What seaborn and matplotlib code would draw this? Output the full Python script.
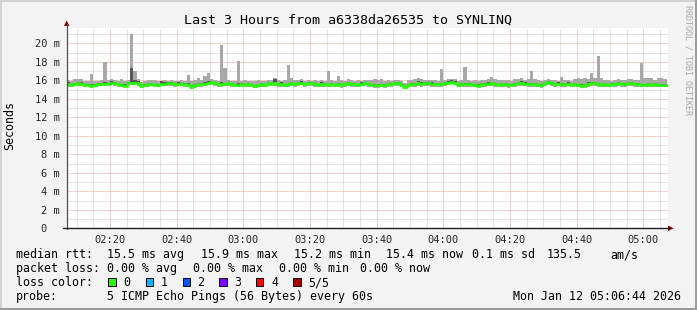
import numpy as np
import pandas as pd
import matplotlib
matplotlib.use("Agg")
import matplotlib.pyplot as plt
import seaborn as sns
from matplotlib.patches import Rectangle, Polygon
from matplotlib.lines import Line2D

# ---------------- data (1-minute samples, ms) ----------------
med = [15.60,15.46,15.60,15.68,15.60,15.49,15.49,15.39,15.49,15.57,
       15.60,15.64,15.60,15.75,15.68,15.57,15.49,15.42,15.68,15.75,
       15.75,15.75,15.39,15.46,15.57,15.57,15.46,15.46,15.64,15.60,
       15.68,15.68,15.57,15.60,15.60,15.57,15.53,15.31,15.49,15.57,
       15.57,15.64,15.75,15.78,15.68,15.57,15.57,15.60,15.68,15.57,
       15.49,15.49,15.57,15.49,15.57,15.49,15.39,15.49,15.57,15.49,
       15.68,15.60,15.68,15.57,15.60,15.49,15.57,15.68,15.57,15.68,
       15.75,15.57,15.68,15.68,15.57,15.49,15.60,15.57,15.49,15.57,
       15.49,15.57,15.49,15.57,15.68,15.57,15.57,15.49,15.60,15.68,
       15.57,15.49,15.49,15.49,15.49,15.46,15.57,15.57,15.68,15.68,
       15.49,15.24,15.49,15.57,15.57,15.68,15.60,15.68,15.68,15.60,
       15.57,15.57,15.57,15.68,15.75,15.85,15.75,15.49,15.57,15.57,
       15.57,15.57,15.49,15.42,15.57,15.57,15.60,15.68,15.57,15.49,
       15.57,15.57,15.49,15.49,15.57,15.68,15.68,15.60,15.57,15.57,
       15.57,15.49,15.49,15.68,15.78,15.68,15.57,15.60,15.57,15.57,
       15.60,15.49,15.57,15.49,15.42,15.49,15.60,15.68,15.68,15.57,
       15.49,15.57,15.49,15.57,15.57,15.68,15.57,15.57,15.68,15.68,
       15.57,15.57,15.49,15.49,15.57,15.49,15.57,15.49,15.49,15.49]

smoke_hi = [16.05,15.95,16.1,16.1,16.1,15.9,15.9,16.65,15.9,15.95,
            16.0,18.0,16.0,16.1,16.05,15.95,16.1,15.9,16.0,21.0,
            17.0,16.1,15.8,15.9,16.0,16.0,16.05,15.9,15.9,16.0,
            15.95,16.05,15.9,15.95,16.0,15.95,16.6,15.9,16.0,16.2,
            16.05,16.5,16.8,16.1,16.0,15.95,19.8,17.3,16.0,15.95,
            15.9,18.05,15.95,16.0,15.9,15.95,15.9,16.0,15.95,15.9,
            16.0,16.05,16.2,16.0,15.95,16.0,17.6,16.3,16.0,16.05,
            16.1,15.95,16.0,15.95,16.0,15.9,16.0,15.95,17.0,16.0,
            15.95,16.5,16.0,15.95,16.1,16.0,15.95,16.0,15.95,16.05,
            16.0,16.05,16.1,16.0,16.1,15.95,16.0,15.95,16.0,16.0,
            15.95,15.7,16.0,16.05,16.1,16.2,16.15,16.05,16.0,16.05,
            16.0,15.95,17.2,16.05,16.1,16.1,16.1,15.95,16.0,17.4,
            16.0,15.95,16.0,15.95,16.0,16.05,16.1,16.4,16.1,16.0,
            16.0,16.05,16.0,15.95,16.1,16.1,16.2,16.0,16.1,17.0,
            16.1,16.0,15.95,16.05,16.15,16.05,16.0,15.95,16.4,16.0,
            16.0,15.95,16.15,16.2,16.15,16.2,16.1,16.8,16.2,18.6,
            16.2,16.0,16.0,15.95,16.0,16.1,16.05,16.0,16.15,16.1,
            16.0,16.0,17.9,16.3,16.3,16.2,16.0,16.25,16.2,16.1]

smoke_lo = [15.3,15.25,15.35,15.4,15.35,15.3,15.25,15.2,15.25,15.35,
            15.35,15.4,15.35,15.45,15.4,15.3,15.25,15.25,15.4,15.45,
            15.45,15.4,15.2,15.25,15.3,15.35,15.25,15.25,15.35,15.35,
            15.4,15.4,15.3,15.35,15.35,15.3,15.25,15.1,15.15,15.3,
            15.25,15.35,15.45,15.45,15.4,15.3,15.3,15.35,15.35,15.25,
            15.25,15.25,15.3,15.25,15.3,15.25,15.15,15.25,15.3,15.25,
            15.4,15.35,15.4,15.3,15.3,15.25,15.3,15.4,15.3,15.35,
            15.45,15.3,15.4,15.4,15.3,15.25,15.3,15.3,15.25,15.3,
            15.25,15.3,15.2,15.25,15.35,15.3,15.3,15.25,15.35,15.4,
            15.3,15.25,15.15,15.15,15.25,15.2,15.3,15.3,15.4,15.4,
            15.25,15.1,15.25,15.3,15.25,15.35,15.3,15.4,15.35,15.3,
            15.3,15.25,15.25,15.4,15.45,15.55,15.45,15.25,15.3,15.3,
            15.3,15.3,15.25,15.15,15.3,15.3,15.35,15.4,15.3,15.25,
            15.3,15.25,15.2,15.25,15.3,15.35,15.4,15.35,15.3,15.3,
            15.3,15.25,15.2,15.4,15.45,15.4,15.3,15.35,15.3,15.3,
            15.35,15.25,15.3,15.25,15.15,15.2,15.3,15.4,15.35,15.3,
            15.25,15.3,15.25,15.3,15.3,15.4,15.3,15.3,15.35,15.4,
            15.3,15.3,15.25,15.25,15.3,15.25,15.3,15.25,15.25,15.25]

dark_hi = [15.85,15.6,15.75,15.85,15.8,15.6,15.6,15.55,15.6,15.75,
           15.7,15.85,15.7,15.95,15.85,15.7,15.6,15.55,15.85,17.3,
           16.0,15.95,15.5,15.6,15.75,15.7,15.6,15.6,15.9,15.8,
           15.85,15.85,15.7,15.8,15.75,15.7,15.75,15.5,15.6,15.75,
           15.7,15.85,15.95,15.95,15.85,15.7,15.8,15.75,15.85,15.7,
           15.6,15.7,15.75,15.6,15.75,15.6,15.5,15.6,15.75,15.6,
           15.85,15.75,16.1,15.75,15.8,15.6,15.75,15.85,15.7,15.85,
           15.95,15.7,15.85,15.85,15.7,15.6,15.8,15.7,15.6,15.75,
           15.6,15.75,15.65,15.7,15.85,15.7,15.75,15.6,15.8,15.85,
           15.7,15.6,15.6,15.65,15.6,15.55,15.75,15.7,15.85,15.8,
           15.6,15.35,15.65,15.75,15.7,15.9,15.8,15.85,15.8,15.8,
           15.7,15.75,15.7,15.85,15.95,16.0,15.95,15.6,15.75,15.7,
           15.75,15.7,15.6,15.55,15.75,15.7,15.8,15.85,15.7,15.6,
           15.75,15.7,15.6,15.65,15.75,15.85,15.9,15.8,15.7,15.75,
           15.7,15.6,15.65,15.85,15.95,15.85,15.7,15.8,15.7,15.75,
           15.8,15.6,15.75,15.6,15.55,15.6,15.8,15.85,15.85,15.7,
           15.65,15.75,15.6,15.75,15.7,15.85,15.7,15.75,15.85,15.8,
           15.75,15.7,15.6,15.65,15.75,15.6,15.75,15.6,15.65,15.6]

dark_lo = [15.45,15.35,15.5,15.55,15.5,15.4,15.4,15.3,15.4,15.5,
           15.5,15.55,15.5,15.6,15.55,15.45,15.4,15.35,15.55,15.6,
           15.6,15.6,15.3,15.4,15.45,15.45,15.4,15.4,15.5,15.5,
           15.55,15.55,15.45,15.5,15.5,15.45,15.4,15.2,15.35,15.45,
           15.45,15.5,15.6,15.65,15.55,15.45,15.45,15.5,15.55,15.45,
           15.4,15.4,15.45,15.4,15.45,15.4,15.3,15.4,15.45,15.4,
           15.55,15.5,15.55,15.45,15.5,15.4,15.45,15.55,15.45,15.55,
           15.6,15.45,15.55,15.55,15.45,15.4,15.5,15.45,15.4,15.45,
           15.4,15.45,15.4,15.45,15.55,15.45,15.45,15.4,15.5,15.55,
           15.45,15.4,15.35,15.35,15.4,15.35,15.45,15.45,15.55,15.55,
           15.4,15.2,15.4,15.45,15.45,15.55,15.5,15.55,15.55,15.5,
           15.45,15.45,15.45,15.55,15.6,15.7,15.6,15.4,15.45,15.45,
           15.45,15.45,15.4,15.3,15.45,15.45,15.5,15.55,15.45,15.4,
           15.45,15.45,15.35,15.4,15.45,15.55,15.55,15.5,15.45,15.45,
           15.45,15.4,15.35,15.55,15.65,15.55,15.45,15.5,15.45,15.45,
           15.5,15.4,15.45,15.4,15.3,15.35,15.5,15.55,15.55,15.45,
           15.4,15.45,15.4,15.45,15.45,15.55,15.45,15.45,15.55,15.55,
           15.45,15.45,15.4,15.4,15.45,15.4,15.45,15.4,15.4,15.4]

# axis ticks (minutes from start of window, 02:07)
x_major_pos = [13, 33, 53, 73, 93, 113, 133, 153, 173]
x_major_lab = ["02:20", "02:40", "03:00", "03:20", "03:40", "04:00", "04:20", "04:40", "05:00"]
y_major_pos = [0, 2, 4, 6, 8, 10, 12, 14, 16, 18, 20]
y_major_lab = ["0  ", "2 m", "4 m", "6 m", "8 m", "10 m", "12 m", "14 m", "16 m", "18 m", "20 m"]

loss_names = ["0", "1", "2", "3", "4", "5/5"]
loss_colors = ["#26ff00", "#00b8ff", "#0059ff", "#7e00ff", "#ff0000", "#a10000"]

# ---------------- style ----------------
sns.set_style("white")
plt.rcParams["font.family"] = ["DejaVu Sans Mono"]

W, H = 697, 310
BG = "#f3f3f3"
fig = plt.figure(figsize=(W / 100, H / 100), dpi=100, facecolor=BG)


def fx(x):
    return x / W


def fy(y):
    return 1 - y / H


L, R, T, B = 66.7, 668.3, 28.3, 228.3
ax = fig.add_axes([fx(L), fy(B), (R - L) / W, (B - T) / H])
ax.set_facecolor("white")

n = len(med)
idx = np.arange(n)
hi = np.array(smoke_hi)
lo = np.array(smoke_lo)
dh = np.array(dark_hi)
dl = np.array(dark_lo)

ax.bar(idx, hi - lo, bottom=lo, width=1.0, align="edge", color="#a8a8a8",
       linewidth=0, zorder=2)
ax.bar(idx, dh - dl, bottom=dl, width=1.0, align="edge", color="#555555",
       linewidth=0, zorder=3)

df = pd.DataFrame({"t": np.append(idx, n).astype(float),
                   "med": np.append(med, med[-1])})
sns.lineplot(data=df, x="t", y="med", drawstyle="steps-post",
             color=loss_colors[0], linewidth=1.9, ax=ax, zorder=4)

ax.set_xlim(0, 180.5)
ax.set_ylim(0, 21.62)
ax.set_xlabel("")
ax.set_ylabel("")

ax.set_xticks(x_major_pos)
ax.set_xticklabels(x_major_lab)
ax.set_xticks(np.arange(3, 181, 5), minor=True)
ax.set_yticks(y_major_pos)
ax.set_yticklabels(y_major_lab)
ax.set_yticks(np.arange(0, 22, 1), minor=True)

ax.tick_params(axis="x", which="both", length=0, pad=4.6, labelsize=7.5)
ax.tick_params(axis="y", which="major", length=2.4, width=0.7, color="#7a7a7a",
               pad=2.6, labelsize=7.5, direction="out")
ax.tick_params(axis="y", which="minor", length=0)

ax.set_axisbelow(True)
ax.grid(which="minor", color="#c8c8c8", linestyle=(0, (1, 1)), linewidth=0.72)
ax.grid(which="major", color="#f2a0a0", linestyle=(0, (1, 1)), linewidth=0.72)
for s in ax.spines.values():
    s.set_visible(False)

# axes lines and arrows (figure pixel coordinates)
fig.add_artist(Line2D([fx(L), fx(L)], [fy(B + 1), fy(24)], color="#505050", lw=0.9))
fig.add_artist(Line2D([fx(63), fx(668.5)], [fy(B), fy(B)], color="#202020", lw=1.0))
fig.add_artist(Polygon([[fx(64.0), fy(26.0)], [fx(69.4), fy(26.0)], [fx(66.7), fy(20.5)]],
                       closed=True, color="#7f0000", lw=0))
fig.add_artist(Polygon([[fx(668.0), fy(225.6)], [fx(668.0), fy(231.0)], [fx(673.6), fy(228.3)]],
                       closed=True, color="#7f0000", lw=0))

# frame shading
fig.add_artist(Rectangle((0, fy(2)), 1, 2 / H, transform=fig.transFigure, color="#d2d2d2", lw=0))
fig.add_artist(Rectangle((0, 0), 2 / W, 1, transform=fig.transFigure, color="#d2d2d2", lw=0))
fig.add_artist(Rectangle((0, 0), 1, 2.5 / H, transform=fig.transFigure, color="#9c9c9c", lw=0))
fig.add_artist(Rectangle((1 - 2.5 / W, 0), 2.5 / W, 1, transform=fig.transFigure, color="#9c9c9c", lw=0))

# title and labels
fig.text(fx(347.7), fy(24), "Last 3 Hours from a6338da26535 to SYNLINQ",
         ha="center", va="baseline", fontsize=9.6, color="black")
fig.text(fx(10), fy(126), "Seconds", rotation=90, ha="center", va="center",
         fontsize=8.4, color="black")
fig.text(fx(688), fy(60), "RRDTOOL / TOBI OETIKER", rotation=270, ha="center",
         va="center", fontsize=6.0, color="#a6a6a6")

FS = 8.4
leg_lines = [
    (258.3, [(16, "median rtt:"), (107.3, "15.5 ms avg"), (200.7, "15.9 ms max"),
             (294, "15.2 ms min"), (386, "15.4 ms now"), (472, "0.1 ms sd"),
             (546.7, "135.5"), (610, "am/s")]),
    (272.2, [(16, "packet loss:"), (107.3, "0.00 % avg"), (193.3, "0.00 % max"),
             (279.3, "0.00 % min"), (360, "0.00 % now")]),
    (286.0, [(16, "loss color:")]),
    (299.8, [(16, "probe:"), (107.3, "5 ICMP Echo Pings (56 Bytes) every 60s"),
             (512.7, "Mon Jan 12 05:06:44 2026")]),
]
for yb, items in leg_lines:
    for xl, s in items:
        fig.text(fx(xl), fy(yb), s, ha="left", va="baseline", fontsize=FS, color="black")

box_x = [108.3, 145.7, 182.7, 219.3, 256.0, 293.3]
lab_x = [123.3, 160.3, 197.3, 234.3, 271.0, 308.3]
for bx, lx, name, col in zip(box_x, lab_x, loss_names, loss_colors):
    fig.add_artist(Rectangle((fx(bx), fy(285.8)), 7.4 / W, 7.6 / H,
                             transform=fig.transFigure, facecolor=col,
                             edgecolor="#000000", lw=0.7))
    fig.text(fx(lx), fy(286.0), name, ha="left", va="baseline", fontsize=FS, color="black")

fig.savefig("out.png", dpi=100, facecolor=BG)
